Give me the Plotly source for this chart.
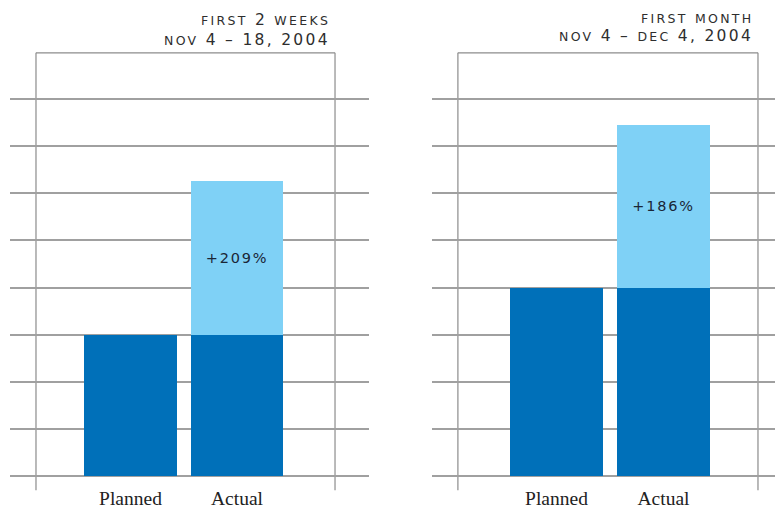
import plotly.graph_objects as go

# --- data -------------------------------------------------------------
categories = ["Planned", "Actual"]
planned = [3, 4]                      # planned volume per period (grid units)
growth_pct = [209, 186]               # actual volume as % of planned
period_titles = ["FIRST 2 WEEKS", "FIRST MONTH"]
period_dates = ["NOV 4 – 18, 2004", "NOV 4 – DEC 4, 2004"]
grid_levels = [0, 1, 2, 3, 4, 5, 6, 7, 8]

DARK = "#0070b9"
LIGHT = "#7fd1f6"
GRID = "#a0a0a0"
FRAME = "#8c8c8c"

Y_RANGE = [-0.18, 9.1]
FRAME_BOTTOM, FRAME_TOP = -0.3, 8.98   # frame extent in value units


def small_caps(s, small=12.5, big=15.5, spacing=2.3):
    """Copperplate-like caps: letters smaller than figures."""
    out = []
    for ch in s:
        size = small if ch.isalpha() else big
        out.append(f"<span style='font-size:{size}px;letter-spacing:{spacing}px'>{ch}</span>")
    return "".join(out)


def to_domain(v):
    return (v - Y_RANGE[0]) / (Y_RANGE[1] - Y_RANGE[0])


fig = go.Figure()

# panel geometry (axis ranges in category units)
x_domains = [[10 / 775, 369 / 775], [432 / 775, 1.0]]
x_ranges = [[-1.131, 2.239], [-1.163, 2.042]]
frame_x = [[-0.887, 1.920], [-0.921, 1.883]]
title_right = [0.428, 0.974]
title_y = [[0.961, 0.922], [0.965, 0.929]]

for i in range(2):
    xa = "x" if i == 0 else f"x{i + 1}"
    ya = "y" if i == 0 else f"y{i + 1}"
    actual = planned[i] * growth_pct[i] / 100.0
    base = [planned[i], planned[i]]
    extra = [None, actual - planned[i]]

    fig.add_trace(go.Bar(
        x=categories, y=base, marker=dict(color=DARK, line=dict(width=0)),
        xaxis=xa, yaxis=ya, showlegend=False, hoverinfo="skip",
    ))
    fig.add_trace(go.Bar(
        x=categories, y=extra, marker=dict(color=LIGHT, line=dict(width=0)),
        text=["", f"<span style='letter-spacing:1.8px'>+{growth_pct[i]}%</span>"],
        textposition="inside", insidetextanchor="middle", textangle=0,
        textfont=dict(family="DejaVu Sans", size=14.5, color="#1a2636"),
        xaxis=xa, yaxis=ya, showlegend=False, hoverinfo="skip",
    ))

    # frame around each panel: two uprights (running a little below the base)
    # and a top rule
    x0, x1 = frame_x[i]
    for xv in (x0, x1):
        fig.add_shape(type="line", xref=xa, yref=f"{ya} domain", x0=xv, x1=xv,
                      y0=to_domain(FRAME_BOTTOM), y1=to_domain(FRAME_TOP),
                      line=dict(color=FRAME, width=1.2), layer="below")
    fig.add_shape(type="line", xref=xa, yref=ya, x0=x0, x1=x1,
                  y0=FRAME_TOP, y1=FRAME_TOP,
                  line=dict(color=FRAME, width=1.2), layer="below")

    # period heading
    fig.add_annotation(
        xref="paper", yref="paper", x=title_right[i], y=title_y[i][0],
        xanchor="right", yanchor="middle", showarrow=False,
        text=small_caps(period_titles[i]),
        font=dict(family="DejaVu Sans", color="#2e2e2e"),
    )
    fig.add_annotation(
        xref="paper", yref="paper", x=title_right[i], y=title_y[i][1],
        xanchor="right", yanchor="middle", showarrow=False,
        text=small_caps(period_dates[i]),
        font=dict(family="DejaVu Sans", color="#2e2e2e"),
    )

axis_common_x = dict(
    type="category", showgrid=False, zeroline=False, showline=False, ticks="",
    tickfont=dict(family="Liberation Serif", size=19.5, color="#222222"),
    automargin=False, fixedrange=True,
)
axis_common_y = dict(
    range=Y_RANGE, domain=[0.0537, 0.9078], tickvals=grid_levels,
    showticklabels=False, showgrid=True, gridcolor=GRID, gridwidth=1.5,
    zeroline=False, showline=False, ticks="", automargin=False, fixedrange=True,
)

fig.update_layout(
    width=775, height=512,
    margin=dict(l=0, r=0, t=0, b=0),
    paper_bgcolor="white", plot_bgcolor="white",
    barmode="stack", bargap=0.13,
    xaxis=dict(domain=x_domains[0], range=x_ranges[0], anchor="y", **axis_common_x),
    xaxis2=dict(domain=x_domains[1], range=x_ranges[1], anchor="y2", **axis_common_x),
    yaxis=dict(anchor="x", **axis_common_y),
    yaxis2=dict(anchor="x2", **axis_common_y),
)

fig.write_html("out.html")
